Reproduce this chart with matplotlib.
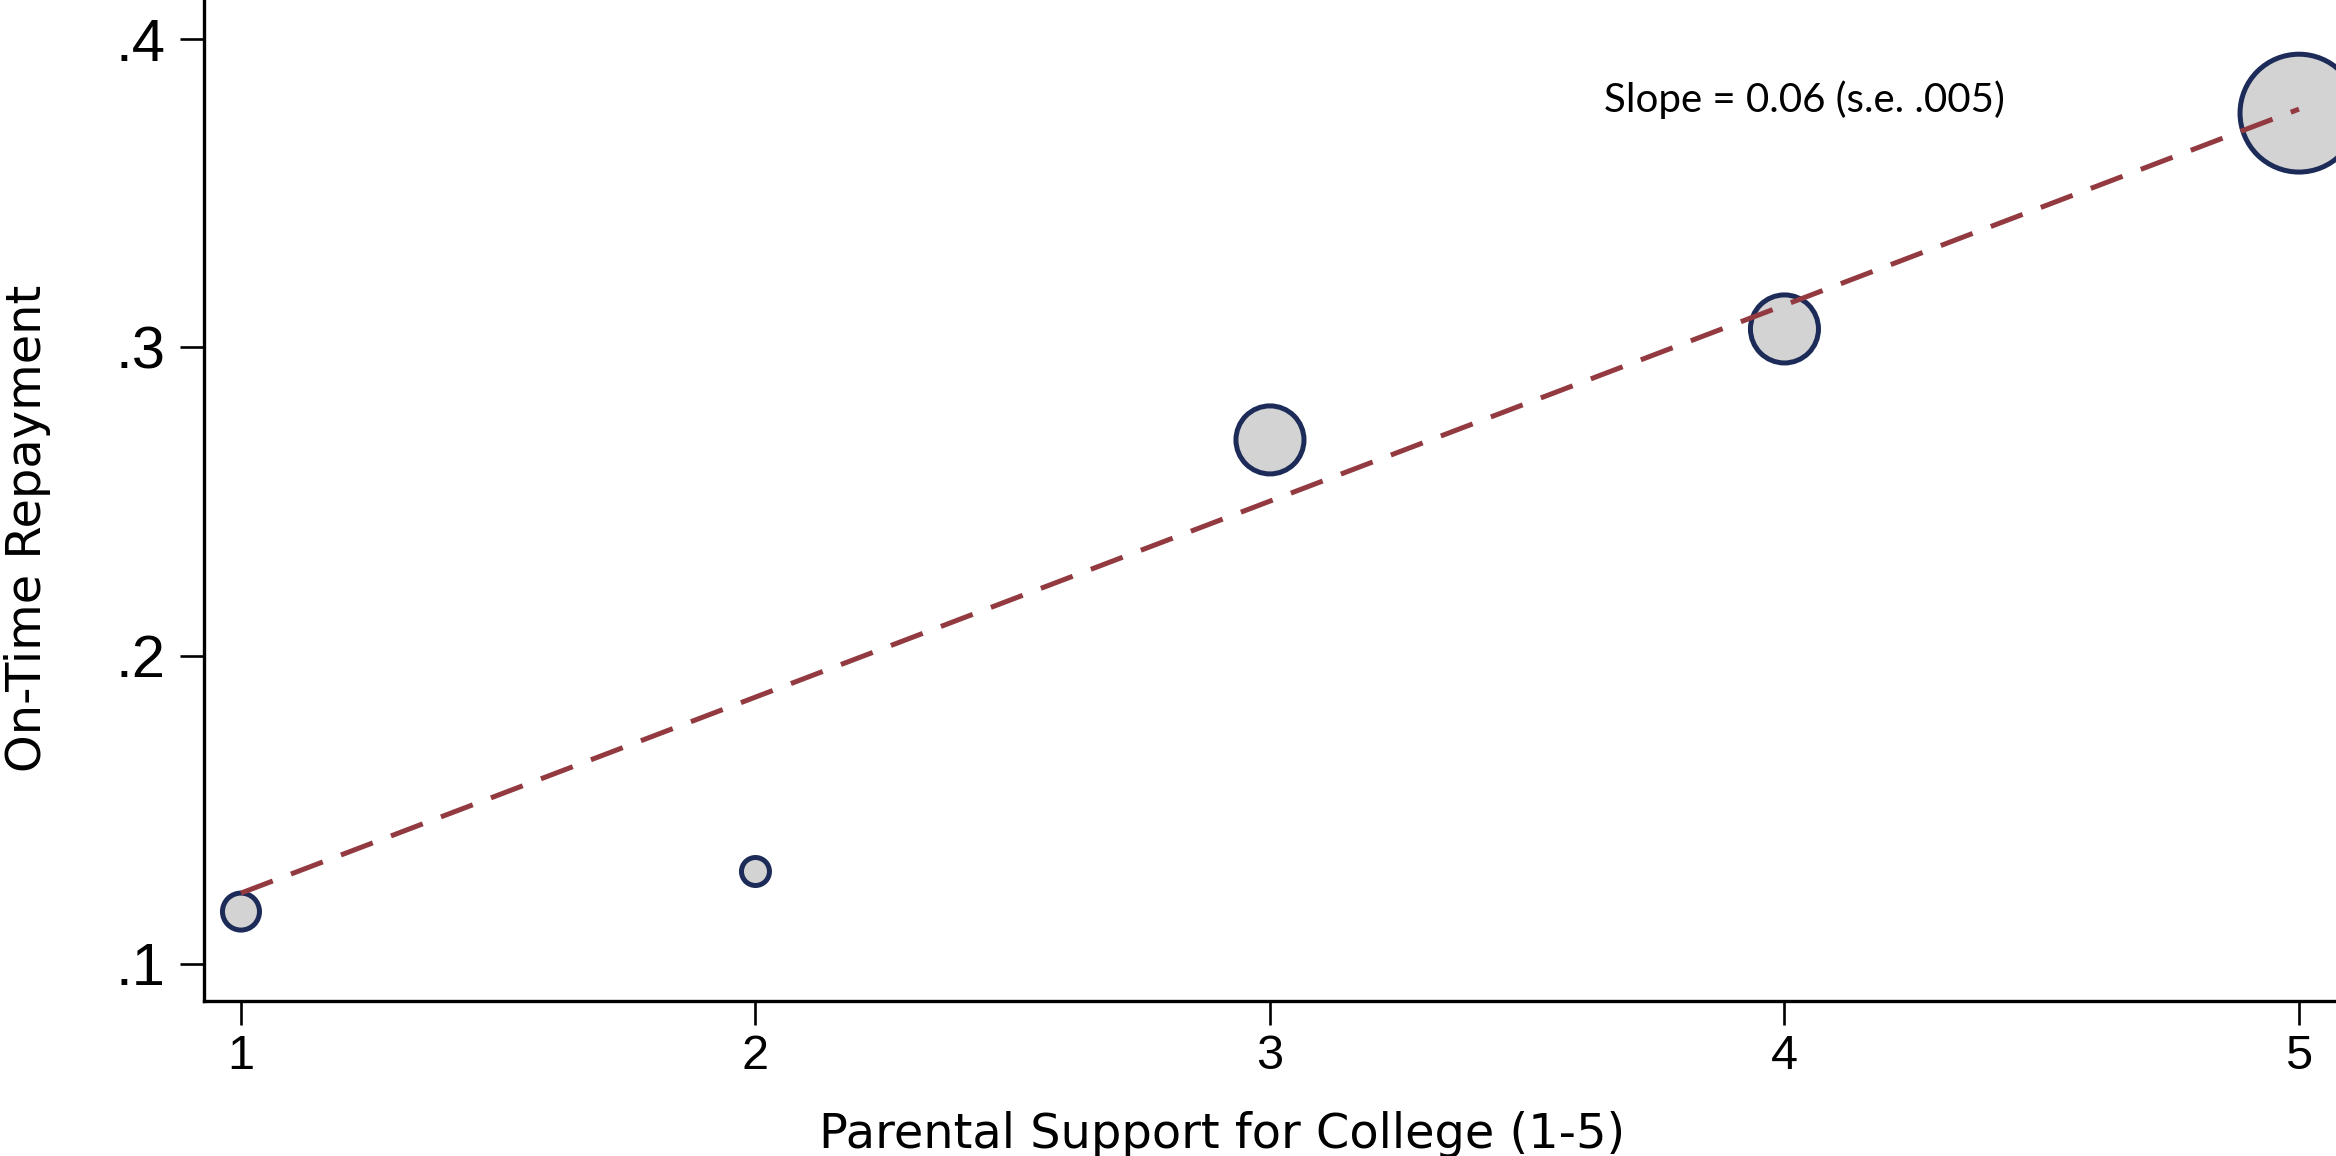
import matplotlib
matplotlib.use('Agg')
import matplotlib.pyplot as plt

# parental support category and share repaying on time
support = [1, 2, 3, 4, 5]
repay = [0.117, 0.130, 0.270, 0.306, 0.376]
# bubble weight (marker area) per category
weight = [710, 406, 2400, 2400, 7200]

# fitted line end points
fit_x = [1, 5]
fit_y = [0.123, 0.3773]

ytick_vals = [0.1, 0.2, 0.3, 0.4]
ytick_labels = ['.1', '.2', '.3', '.4']
xtick_vals = [1, 2, 3, 4, 5]
xtick_labels = ['1', '2', '3', '4', '5']

fig = plt.figure(figsize=(23.36, 11.56), dpi=100)
ax = fig.add_axes([0.0873, 0.1341, 0.9127, 0.8659])

ax.scatter(support, repay, s=weight, facecolor='#d3d3d3', edgecolor='#1c2b58',
           linewidth=3.6, zorder=2, clip_on=False)
ax.plot(fit_x, fit_y, color='#933a40', linewidth=3.6, dashes=(6.8, 3.9), zorder=3)

ax.text(3.649, 0.3805, 'Slope = 0.06 (s.e. .005)', fontsize=29, family=['Lato', 'DejaVu Sans'],
        ha='left', va='center')

ax.set_xlim(0.928, 5.072)
ax.set_ylim(0.088, 0.4127)

tick_font = ['Liberation Sans', 'DejaVu Sans']
ax.set_xticks(xtick_vals)
ax.set_xticklabels(xtick_labels, fontsize=35, family=tick_font)
ax.set_yticks(ytick_vals)
ax.set_yticklabels(ytick_labels, fontsize=43, family=tick_font)
ax.tick_params(axis='both', length=17, width=1.9, color='black')
ax.tick_params(axis='x', pad=7)
ax.tick_params(axis='y', pad=10.8)

ax.spines['top'].set_visible(False)
ax.spines['right'].set_visible(False)
ax.spines['left'].set_linewidth(2.4)
ax.spines['bottom'].set_linewidth(2.4)

ax.set_xlabel('Parental Support for College (1-5)', fontsize=34.5, family='DejaVu Sans')
ax.xaxis.set_label_coords(0.4775, -0.110)
ax.set_ylabel('On-Time Repayment', fontsize=34.5, family='DejaVu Sans')
ax.yaxis.set_label_coords(-0.0715, 0.4725)

fig.savefig('out.png', dpi=100)
